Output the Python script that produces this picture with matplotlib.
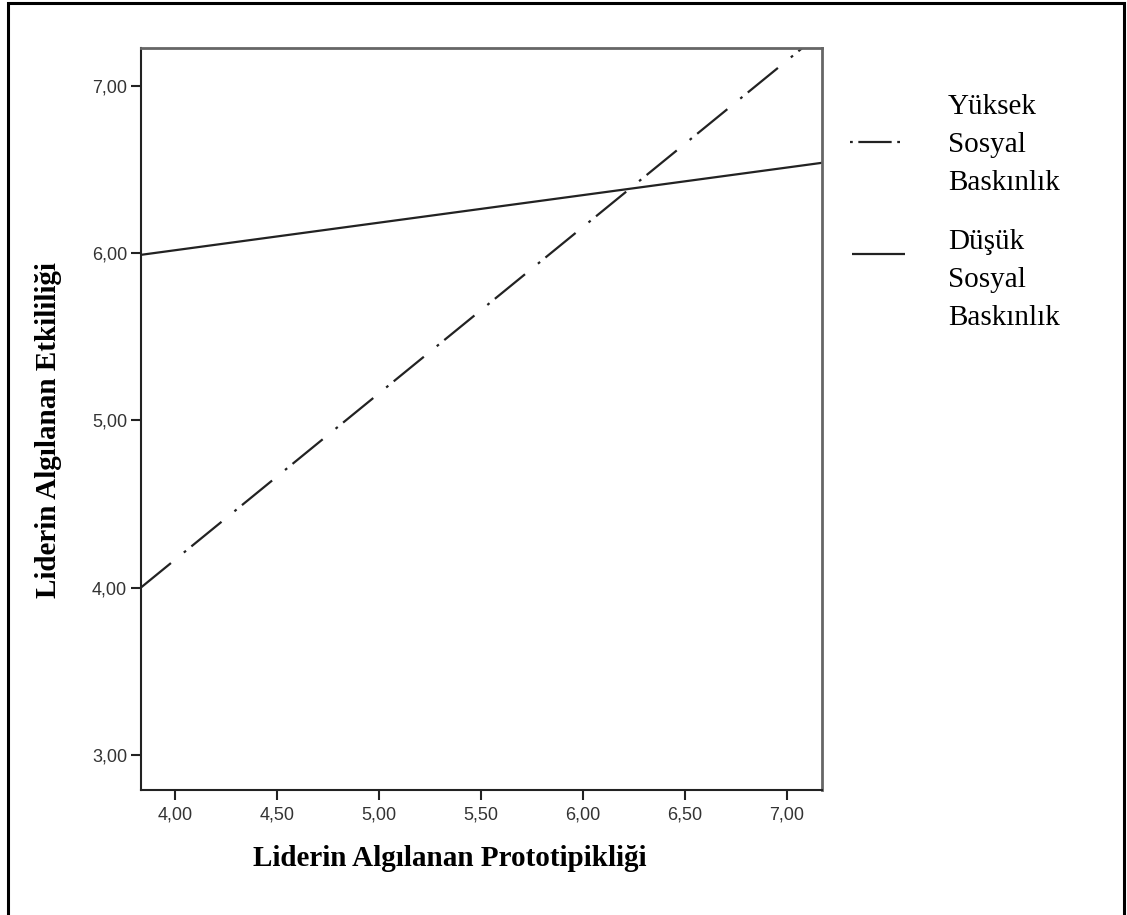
import matplotlib
matplotlib.use("Agg")
import matplotlib.pyplot as plt
from matplotlib.lines import Line2D
from matplotlib.patches import Rectangle

# data (line end points at the axis limits)
x_vals = [3.83, 7.17]
yuksek = [4.00, 7.32]
dusuk = [5.99, 6.54]

x_ticks = [4.0, 4.5, 5.0, 5.5, 6.0, 6.5, 7.0]
x_tick_labels = ["4,00", "4,50", "5,00", "5,50", "6,00", "6,50", "7,00"]
y_ticks = [3.0, 4.0, 5.0, 6.0, 7.0]
y_tick_labels = ["3,00", "4,00", "5,00", "6,00", "7,00"]

series_labels = ["Yüksek\nSosyal\nBaskınlık", "Düşük\nSosyal\nBaskınlık"]

plt.rcParams['lines.scale_dashes'] = False
W, H = 1127, 915

fig = plt.figure(figsize=(W / 100, H / 100), dpi=100)
ax = fig.add_axes([141 / W, 1 - 790 / H, 681 / W, 742 / H])

dashdot = (0, (28, 12, 2, 5))
ax.plot(x_vals, yuksek, color='#222222', lw=1.6, linestyle=dashdot,
        solid_capstyle='butt')
ax.plot(x_vals, dusuk, color='#222222', lw=1.6)

ax.set_xlim(3.831, 7.173)
ax.set_ylim(2.79, 7.227)

ax.set_xticks(x_ticks)
ax.set_xticklabels(x_tick_labels)
ax.set_yticks(y_ticks)
ax.set_yticklabels(y_tick_labels)
for lab in ax.get_xticklabels() + ax.get_yticklabels():
    lab.set_fontfamily('Liberation Sans')
    lab.set_fontsize(13)
    lab.set_color('#333333')
ax.tick_params(axis='both', direction='out', length=7, width=1.5, color='#222222')
ax.tick_params(axis='x', pad=5)
ax.tick_params(axis='y', pad=3)

for side in ['left', 'bottom']:
    ax.spines[side].set_color('#222222')
    ax.spines[side].set_linewidth(1.5)
for side in ['top', 'right']:
    ax.spines[side].set_color('#666666')
    ax.spines[side].set_linewidth(2)

ax.set_xlabel("Liderin Algılanan Prototipikliği", family='Liberation Serif',
              weight='bold', size=21, va='center')
ax.xaxis.set_label_coords((450 - 141) / 681, (790 - 858) / 742)
ax.set_ylabel("Liderin Algılanan Etkililiği", family='Liberation Serif',
              weight='bold', size=21, va='center')
ax.yaxis.set_label_coords((49 - 141) / 681, (790 - 430) / 742)

# legend outside the plot, built by hand
legend_rows = [
    (series_labels[0], 145, (0, (2, 4, 24, 4)), 142, 850, 900),
    (series_labels[1], 280, '-', 254, 852, 905),
]
for label, ty, ls, ly, x0, x1 in legend_rows:
    fig.add_artist(Line2D([x0 / W, x1 / W], [1 - ly / H, 1 - ly / H],
                          transform=fig.transFigure, color='#222222',
                          lw=1.6, linestyle=ls, solid_capstyle='butt'))
    fig.text(948 / W, 1 - ty / H, label, family='Liberation Serif', size=21,
             va='center', ha='left', linespacing=1.62, color='black')

# outer frame of the picture
fig.patches.append(Rectangle((8 / W, -0.05), 1116 / W, 0.05 + 1 - 3 / H,
                             transform=fig.transFigure, fill=False,
                             edgecolor='black', lw=2.2))

fig.savefig("out.png", dpi=100)
